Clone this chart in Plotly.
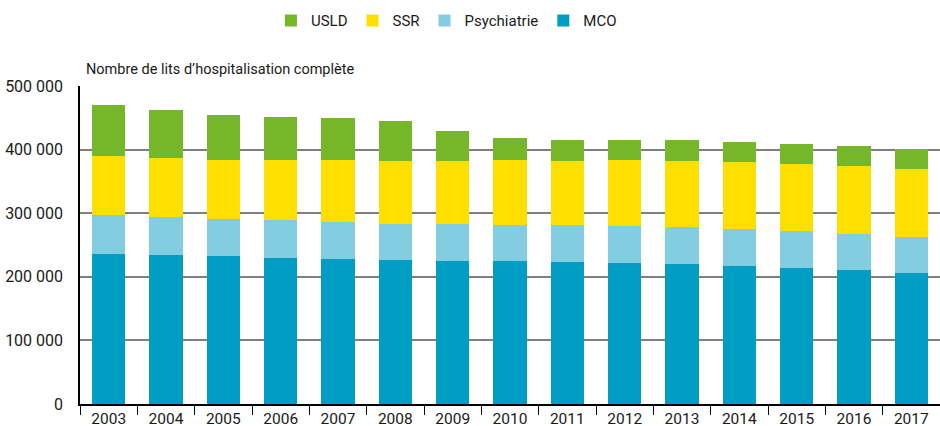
import plotly.graph_objects as go

years = ["2003", "2004", "2005", "2006", "2007", "2008", "2009", "2010",
         "2011", "2012", "2013", "2014", "2015", "2016", "2017"]
mco = [236000, 234000, 233000, 230000, 228000, 226500, 225000, 225000,
       223000, 222000, 220000, 217000, 214000, 211000, 206000]
psychiatrie = [61000, 60000, 58000, 59000, 58000, 56500, 58000, 56000,
               58000, 58000, 58000, 58000, 58000, 56000, 56500]
ssr = [92500, 92400, 92000, 94000, 97000, 99000, 98500, 102000,
       100500, 103000, 103500, 105000, 105000, 106700, 106500]
usld = [80000, 76600, 72000, 69000, 67400, 62300, 48500, 34800,
        33000, 31600, 33000, 31400, 31500, 31300, 31400]
y_ticks = [0, 100000, 200000, 300000, 400000, 500000]
y_tick_labels = ["0", "100 000", "200 000", "300 000", "400 000", "500 000"]

FONT = "Roboto, Liberation Sans, sans-serif"

fig = go.Figure()
series = [("MCO", mco, "#009EC4"), ("Psychiatrie", psychiatrie, "#83CDE1"),
          ("SSR", ssr, "#FFDF00"), ("USLD", usld, "#76B72A")]
for name, vals, col in series:
    fig.add_trace(go.Bar(x=years, y=vals, name=name, marker_color=col,
                         marker_line_width=0))

fig.update_layout(
    barmode="stack",
    bargap=0.42,
    width=940, height=426,
    margin=dict(l=80, r=0, t=86, b=22, autoexpand=False),
    paper_bgcolor="white", plot_bgcolor="white",
    font=dict(family=FONT, size=16, color="#1a1a1a"),
    showlegend=True,
    legend=dict(orientation="h", traceorder="reversed", x=0.222, xanchor="left",
                y=1.205, yanchor="middle", font=dict(size=15)),
    annotations=[dict(text="Nombre de lits d’hospitalisation complète",
                      xref="paper", yref="paper", x=0.005, y=1.0,
                      xanchor="left", yanchor="bottom", yshift=6,
                      showarrow=False, font=dict(size=14.5))],
)
fig.update_xaxes(showline=True, linecolor="black", linewidth=1.5,
                 ticks="outside", tickson="boundaries", ticklen=9,
                 tickcolor="black", tickwidth=1.2, showgrid=False,
                 tickfont=dict(size=15.5), automargin=False)
fig.update_yaxes(range=[0, 500000], tickvals=y_ticks, ticktext=y_tick_labels,
                 showline=True, linecolor="black", linewidth=1.5,
                 showgrid=True, gridcolor="#7f7f7f", gridwidth=1.5,
                 zeroline=False, ticks="", tickfont=dict(size=16),
                 ticklabelstandoff=12, automargin=False)

fig.write_html("out.html", config={"displayModeBar": False},
               post_script="document.body.style.margin='0';document.body.style.overflow='hidden';")
